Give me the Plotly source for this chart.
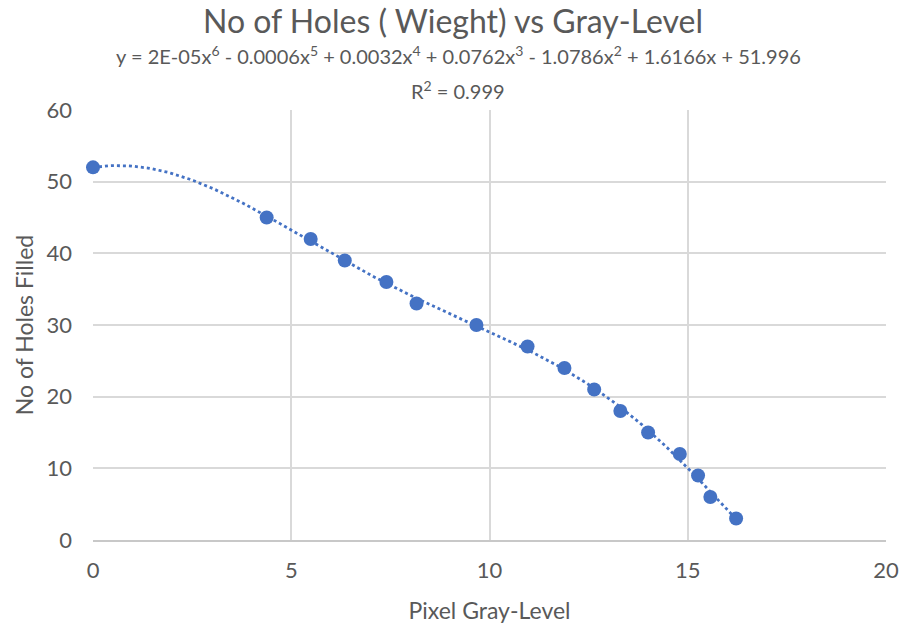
import numpy as np
import plotly.graph_objects as go

gray_level = [0, 4.38, 5.49, 6.35, 7.4, 8.16, 9.67, 10.96, 11.89, 12.64, 13.3, 14.0, 14.8, 15.26, 15.57, 16.22]
holes = [52, 45, 42, 39, 36, 33, 30, 27, 24, 21, 18, 15, 12, 9, 6, 3]
x_ticks = [0, 5, 10, 15, 20]
y_ticks = [0, 10, 20, 30, 40, 50, 60]
title = "No of Holes ( Wieght) vs Gray-Level"
equation = "y = 2E-05x<sup>6</sup> - 0.0006x<sup>5</sup> + 0.0032x<sup>4</sup> + 0.0762x<sup>3</sup> - 1.0786x<sup>2</sup> + 1.6166x + 51.996"
r2_text = "R<sup>2</sup> = 0.999"

# 6th-order polynomial trendline fitted to the data
coef = np.polyfit(gray_level, holes, 6)
xs = np.linspace(min(gray_level), max(gray_level), 200)
ys = np.polyval(coef, xs)

FONT = "Lato, Open Sans, sans-serif"
TXT = "#595959"
W, H = 906, 624
ML, MR, MT, MB = 93, 20, 110, 84
plot_h = H - MT - MB
plot_w = W - ML - MR

fig = go.Figure()
fig.add_trace(go.Scatter(x=xs, y=ys, mode="lines",
                         line=dict(color="#4472C4", width=2.8, dash="dot"),
                         hoverinfo="skip", showlegend=False, cliponaxis=False))
fig.add_trace(go.Scatter(x=gray_level, y=holes, mode="markers",
                         marker=dict(color="#4472C4", size=14),
                         showlegend=False, cliponaxis=False))

def paper_y(py):
    return (H - MB - py) / plot_h

def paper_x(px):
    return (px - ML) / plot_w

fig.update_layout(
    width=W, height=H,
    margin=dict(l=ML, r=MR, t=MT, b=MB),
    paper_bgcolor="white", plot_bgcolor="white",
    font=dict(family=FONT, color=TXT, size=22),
    title=dict(text=title, x=0.5, xanchor="center", y=1 - 22 / H, yanchor="middle",
               font=dict(size=32, color=TXT, family=FONT)),
    annotations=[
        dict(text=equation, x=paper_x(458), y=paper_y(55), xref="paper", yref="paper",
             showarrow=False, yanchor="middle", xanchor="center",
             font=dict(size=20, color=TXT, family=FONT)),
        dict(text=r2_text, x=paper_x(458), y=paper_y(90), xref="paper", yref="paper",
             showarrow=False, yanchor="middle", xanchor="center",
             font=dict(size=20, color=TXT, family=FONT)),
    ],
    xaxis=dict(range=[0, 20], tickvals=x_ticks, showgrid=True, gridcolor="#d9d9d9",
               gridwidth=1.5, zeroline=False, showline=True, linecolor="#c8c8c8", linewidth=1.5,
               ticks="", ticklabelstandoff=10, tickfont=dict(size=22, color=TXT),
               automargin=False,
               title=dict(text="Pixel Gray-Level", font=dict(size=23, color=TXT), standoff=22)),
    yaxis=dict(range=[0, 60], tickvals=y_ticks, showgrid=True, gridcolor="#d9d9d9",
               gridwidth=1.5, zeroline=False, showline=False,
               ticks="", ticklabelstandoff=20, tickfont=dict(size=22, color=TXT),
               automargin=False,
               title=dict(text="No of Holes Filled", font=dict(size=23, color=TXT), standoff=6)),
)

fig.write_html("out.html")
